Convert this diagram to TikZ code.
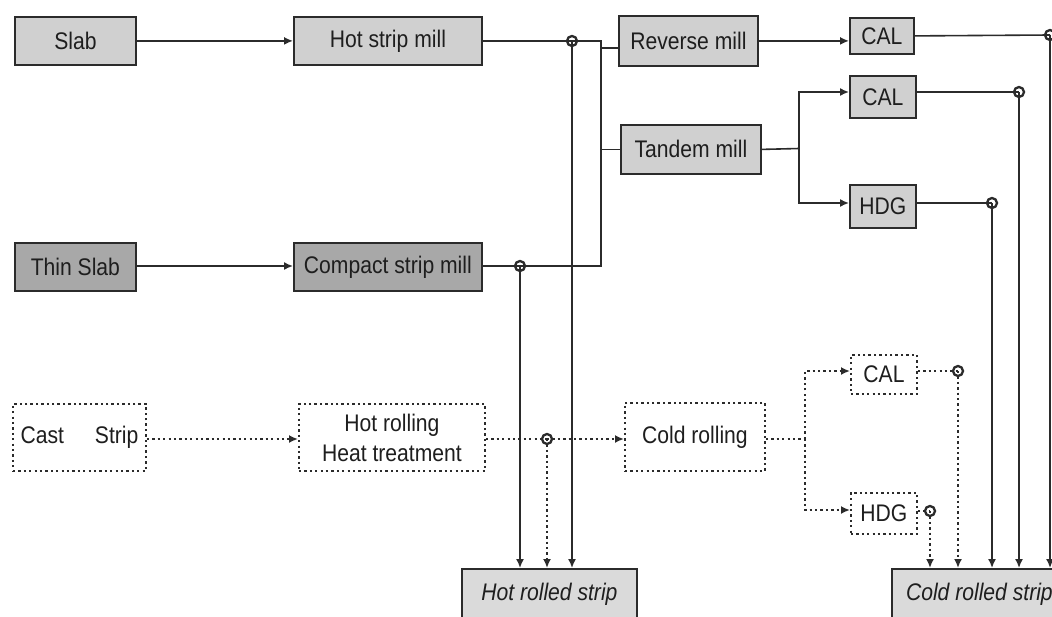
\documentclass[tikz,border=0pt]{standalone}
\usepackage{fontspec}
\setmainfont{Liberation Sans}[FakeStretch=0.88]
\usetikzlibrary{arrows.meta}
\definecolor{lg}{HTML}{D0D0D0}
\definecolor{dg}{HTML}{A8A8A8}
\definecolor{hg}{HTML}{DADADA}
\definecolor{bd}{HTML}{2B2B2B}
\definecolor{tx}{HTML}{1E1E1E}
\begin{document}
\begin{tikzpicture}[x=1pt,y=-1pt,
  box/.style={draw=bd, line width=1.8pt, inner sep=0pt, anchor=north west, text=tx,
    font=\fontsize{24}{30}\selectfont, align=center},
  dbox/.style={box, line width=1.9pt, dash pattern=on 2.3pt off 3.1pt},
  conn/.style={draw=bd, line width=1.6pt},
  arr/.style={conn, -{Latex[length=9pt,width=8pt]}},
  dconn/.style={draw=bd, line width=1.9pt, dash pattern=on 2.3pt off 3.1pt},
  darr/.style={dconn, -{Latex[length=9pt,width=8pt]}},
  jnc/.style={draw=bd, line width=2.3pt}]
\clip (0,0) rectangle (1052,616);
\useasboundingbox (0,0) rectangle (1052,616);
\fill[white] (0,0) rectangle (1052,616);

% solid boxes
\node[box, fill=lg, minimum width=121pt, minimum height=48pt] (slab) at (14,16) {Slab};
\node[box, fill=lg, minimum width=188pt, minimum height=48pt] (hsm) at (293,16) {Hot strip mill};
\node[box, fill=lg, minimum width=139pt, minimum height=50pt] (rm) at (618,15) {Reverse mill};
\node[box, fill=lg, minimum width=140pt, minimum height=49pt] (tm) at (620,124) {Tandem mill};
\node[box, fill=lg, minimum width=64pt, minimum height=36pt] (cal1) at (849,17) {CAL};
\node[box, fill=lg, minimum width=66pt, minimum height=42pt] (cal2) at (849,75) {CAL};
\node[box, fill=lg, minimum width=66pt, minimum height=43pt] (hdg1) at (849,184) {HDG};
\node[box, fill=dg, minimum width=121pt, minimum height=48pt] (tslab) at (14,242) {Thin Slab};
\node[box, fill=dg, minimum width=188pt, minimum height=48pt] (csm) at (293,242) {Compact strip mill};
% dotted boxes
\node[dbox, minimum width=133pt, minimum height=67pt] (cast) at (12,403) {Cast\hspace{31pt}Strip};
\node[dbox, minimum width=186pt, minimum height=67pt] (hr) at (298,403) {Hot rolling\\Heat treatment};
\node[dbox, minimum width=140pt, minimum height=68pt] (cr) at (624,402) {Cold rolling};
\node[dbox, minimum width=66pt, minimum height=39pt] (cal3) at (850,354) {CAL};
\node[dbox, minimum width=66pt, minimum height=41pt] (hdg2) at (850,492) {HDG};
% products
\node[box, fill=hg, minimum width=175pt, minimum height=50pt, font=\fontsize{24}{30}\selectfont\itshape] (hrs) at (461,568) {Hot rolled strip};
\node[box, fill=hg, minimum width=175pt, minimum height=50pt, font=\fontsize{24}{30}\selectfont\itshape] (crs) at (891,568) {Cold rolled strip};

% junction coordinates
\coordinate (j1) at (572,41);
\coordinate (k1) at (601,41);
\coordinate (k2) at (601,266);
\coordinate (j2) at (520,266);
\coordinate (rmj) at (601,48);
\coordinate (j3) at (1050,35);
\coordinate (t1) at (799,148.5);
\coordinate (t2) at (799,92);
\coordinate (t3) at (799,203);
\coordinate (j4) at (1019,92);
\coordinate (j5) at (992,203);
\coordinate (j6) at (547,439);
\coordinate (c1) at (805,439);
\coordinate (c2) at (805,371);
\coordinate (c3) at (805,510);
\coordinate (j7) at (958,371);
\coordinate (j8) at (930,511);

% solid connectors
\draw[arr] (slab.east) -- (hsm.west);
\draw[conn] (hsm.east |- j1) -- (j1) -- (k1) -- (k2) -- (j2) -- (csm.east |- j2);
\draw[arr] (tslab.east |- j2) -- (csm.west |- j2);
\draw[conn] (rmj) -- (rmj -| rm.west);
\draw[conn] (tm.west) -- (tm.west -| k1);
\draw[arr] (rm.east) -- (rm.east -| cal1.west);
\draw[conn] (cal1.east) -- (j3);
\draw[arr] (tm.east) -- (t1) -- (t2) -- (t2 -| cal2.west);
\draw[arr] (t1) -- (t3) -- (t3 -| hdg1.west);
\draw[conn] (cal2.east |- j4) -- (j4);
\draw[conn] (hdg1.east |- j5) -- (j5);
\draw[arr] (j1) -- (j1 |- hrs.north);
\draw[arr] (j2) -- (j2 |- hrs.north);
\draw[arr] (j3) -- (j3 |- crs.north);
\draw[arr] (j4) -- (j4 |- crs.north);
\draw[arr] (j5) -- (j5 |- crs.north);

% dotted connectors
\draw[darr] (cast.east |- j6) -- (hr.west |- j6);
\draw[dconn] (hr.east |- j6) -- (j6);
\draw[darr] (j6) -- (cr.west |- j6);
\draw[darr] (j6) -- (j6 |- hrs.north);
\draw[dconn] (cr.east |- c1) -- (c1);
\draw[darr] (c1) -- (c2) -- (c2 -| cal3.west);
\draw[darr] (c1) -- (c3) -- (c3 -| hdg2.west);
\draw[dconn] (cal3.east |- j7) -- (j7);
\draw[dconn] (hdg2.east |- j8) -- (j8);
\draw[darr] (j7) -- (j7 |- crs.north);
\draw[darr] (j8) -- (j8 |- crs.north);

% junction rings
\foreach \j in {j1,j2,j3,j4,j5,j6,j7,j8}
  \draw[jnc] (\j) circle (5pt);
\end{tikzpicture}
\end{document}
